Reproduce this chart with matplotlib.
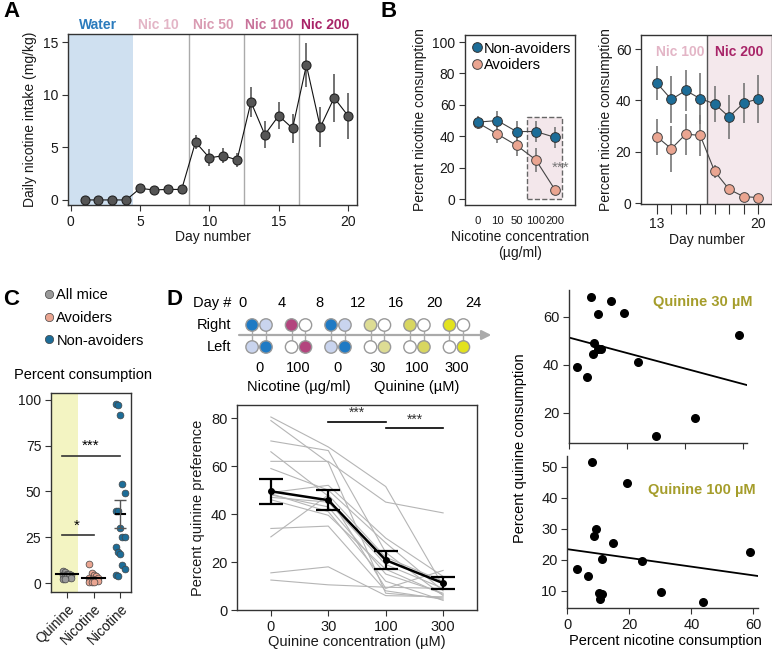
import numpy as np
import matplotlib.pyplot as plt
from matplotlib.lines import Line2D
from matplotlib.patches import Rectangle

plt.rcParams['font.family'] = ['Liberation Sans', 'DejaVu Sans']
plt.rcParams['font.size'] = 10
plt.rcParams['axes.edgecolor'] = '#333333'
plt.rcParams['axes.linewidth'] = 1.0
plt.rcParams['xtick.color'] = '#333333'
plt.rcParams['ytick.color'] = '#333333'
plt.rcParams['xtick.labelcolor'] = '#1a1a1a'
plt.rcParams['ytick.labelcolor'] = '#1a1a1a'
plt.rcParams['xtick.labelsize'] = 10
plt.rcParams['ytick.labelsize'] = 10
plt.rcParams['axes.labelsize'] = 10
plt.rcParams['xtick.major.size'] = 4.5
plt.rcParams['ytick.major.size'] = 4.5
plt.rcParams['xtick.major.pad'] = 2.5
plt.rcParams['ytick.major.pad'] = 2.5
plt.rcParams['axes.labelcolor'] = '#1a1a1a'

# ---- panel A: daily intake
days_a = list(range(1, 21))
intake = [0, 0, 0, 0, 1.1, 0.95, 1.0, 1.0, 5.5, 4.0, 4.2, 3.8,
          9.3, 6.2, 8.0, 6.8, 12.8, 6.9, 9.7, 8.0]
intake_err = [0, 0, 0, 0, 0.2, 0.2, 0.2, 0.2, 0.7, 0.8, 0.7, 0.7,
              1.4, 1.3, 1.3, 1.4, 2.1, 1.9, 2.3, 2.2]
phase_names = ['Water', 'Nic 10', 'Nic 50', 'Nic 100', 'Nic 200']
phase_colors = ['#2b7bbd', '#e3b5c6', '#d99bb2', '#c8739a', '#a82468']
phase_edges = [4.5, 8.5, 12.5, 16.5]

# ---- panel B: avoiders vs non-avoiders
conc_b = ['0', '10', '50', '100', '200']
nonav_b = [49.0, 50.0, 43.0, 43.0, 39.3]
nonav_b_err = [3.7, 6.0, 6.4, 6.4, 6.7]
avoid_b = [48.5, 41.4, 34.2, 25.0, 5.9]
avoid_b_err = [4.0, 6.0, 7.0, 7.5, 1.0]

days_b = list(range(13, 21))
nonav_days = [46.8, 40.4, 43.9, 40.7, 38.7, 33.6, 39.0, 40.6]
nonav_days_err = [6.6, 9.0, 8.0, 10.0, 7.0, 8.4, 7.8, 9.2]
avoid_days = [25.9, 21.2, 26.9, 26.4, 12.4, 5.4, 2.6, 2.2]
avoid_days_err = [7.0, 9.0, 8.0, 8.0, 2.5, 1.0, 0.8, 0.8]

# ---- panel C: percent consumption
quinine_all = [6.8, 5.9, 5.2, 4.8, 4.5, 4.2, 3.9, 3.6, 3.2, 2.8, 2.4, 2.1]
nicotine_avoid = [10.2, 5.5, 4.5, 3.8, 3.0, 2.5, 2.2, 1.8, 1.5, 1.2, 0.8, 0.5, 0.3]
nicotine_nonav = [97.8, 97.0, 91.6, 53.9, 49.2, 39.3, 39.3, 30.2, 25.3, 25.3,
                  19.5, 17.1, 15.8, 9.7, 7.5, 4.4, 3.8]
c_means = [4.9, 2.9, 37.7]
c_sem_nonav = 7.4

# ---- panel D: quinine preference
quinine_conc = ['0', '30', '100', '300']
mice_q = [
    [80.5, 68.0, 51.5, 10.0],
    [79.0, 61.5, 7.0, 5.0],
    [70.5, 66.5, 24.0, 6.0],
    [66.0, 47.5, 9.0, 16.5],
    [62.0, 62.0, 45.0, 40.5],
    [59.0, 50.0, 28.0, 8.0],
    [49.0, 52.0, 30.0, 14.0],
    [48.0, 43.0, 15.0, 7.0],
    [47.0, 45.0, 19.0, 9.0],
    [46.0, 39.5, 17.0, 6.5],
    [34.0, 35.0, 8.0, 4.5],
    [30.5, 48.0, 22.0, 12.0],
    [15.5, 18.0, 6.0, 5.5],
    [12.5, 10.5, 9.5, 9.0],
    [48.5, 41.0, 12.0, 4.0],
]
mean_q = [49.5, 45.8, 20.8, 11.2]
sem_q = [5.3, 4.2, 3.6, 2.4]

# schedule schematic
day_marks = [0, 4, 8, 12, 16, 20, 24]
block_conc = ['0', '100', '0', '30', '100', '300']
block_active = ['#1f7ac4', '#b3457e', '#1f7ac4', '#dddc94', '#d8d660', '#e2e21e']
block_other = ['#c9d4ee', 'white', '#c9d4ee', 'white', 'white', 'white']

# scatter: nicotine vs quinine consumption
nic_30 = [7.5, 14.4, 10.1, 18.9, 58.5, 8.6, 8.2, 10.1, 11.0, 2.6, 6.3, 23.9, 29.8, 43.5]
qui_30 = [68.1, 66.4, 61.1, 61.5, 52.2, 48.9, 44.3, 46.4, 46.7, 39.0, 34.8, 41.1, 10.4, 17.8]
fit_30 = (51.3, -0.323)
nic_100 = [19.3, 9.3, 8.5, 14.8, 11.3, 24.2, 58.9, 3.0, 6.8, 10.3, 11.2, 10.5, 30.2, 43.9, 8.0]
qui_100 = [44.7, 29.9, 27.5, 25.3, 20.2, 19.5, 22.6, 17.1, 14.8, 9.2, 8.8, 7.2, 9.7, 6.4, 51.5]
fit_100 = (23.4, -0.141)

blue = '#1d6d98'
salmon = '#eaa591'

W, H = 772, 651
fig = plt.figure(figsize=(W / 100, H / 100), dpi=100)


def add_ax(x0, y0, x1, y1):
    return fig.add_axes([x0 / W, 1 - y1 / H, (x1 - x0) / W, (y1 - y0) / H])


def letter(x, y, s):
    fig.text(x / W, 1 - y / H, s, fontsize=16, fontweight='bold', va='top', ha='left')


# ================= A
axA = add_ax(68, 34, 357, 205)
axA.set_xlim(-0.2, 20.65)
axA.set_ylim(-0.48, 15.76)
axA.axvspan(-0.2, phase_edges[0], color='#cfe0f0', lw=0, zorder=0)
for e in phase_edges[1:]:
    axA.axvline(e, color='#aaaaaa', lw=1, zorder=1)
axA.errorbar(days_a, intake, yerr=intake_err, fmt='none', ecolor='#666666',
             elinewidth=1.3, zorder=2)
axA.plot(days_a, intake, '-', color='#111111', lw=0.8, zorder=3)
axA.plot(days_a, intake, 'o', ms=6.5, mfc='#555555', mec='#222222', mew=0.8, zorder=4)
axA.set_xticks([0, 5, 10, 15, 20])
axA.set_yticks([0, 5, 10, 15])
axA.set_xlabel('Day number', labelpad=1)
axA.set_ylabel('Daily nicotine intake (mg/kg)')
bounds = [-0.2] + phase_edges + [20.65]
for i, name in enumerate(phase_names):
    axA.text((bounds[i] + bounds[i + 1]) / 2 - 0.2, 1.055, name, color=phase_colors[i],
             fontsize=10, fontweight='bold', ha='center', va='center',
             transform=axA.get_xaxis_transform())
letter(3, 1, 'A')

# ================= B left
axB = add_ax(465, 35, 575, 205)
xb = np.arange(len(conc_b))
axB.set_xlim(-0.68, 5.04)
axB.set_ylim(-3.8, 104.5)
axB.add_patch(Rectangle((xb[3] - 0.48, 0), 1.85, 52, facecolor='#f3e7eb',
                        edgecolor='#666666', ls='--', lw=1, zorder=0))
axB.errorbar(xb, avoid_b, yerr=avoid_b_err, fmt='none', ecolor='#777777', elinewidth=1.2, zorder=2)
axB.errorbar(xb, nonav_b, yerr=nonav_b_err, fmt='none', ecolor='#777777', elinewidth=1.2, zorder=2)
axB.plot(xb, avoid_b, '-', color='#444444', lw=0.8, zorder=3)
axB.plot(xb, nonav_b, '-', color='#444444', lw=0.8, zorder=3)
axB.plot(xb, avoid_b, 'o', ms=7, mfc=salmon, mec='#444444', mew=0.7, zorder=4)
axB.plot(xb, nonav_b, 'o', ms=7, mfc=blue, mec='#333333', mew=0.7, zorder=5)
axB.text(xb[4] + 0.3, avoid_b[3] - 5, '***', color='#777777', fontsize=11,
         ha='center', va='center')
axB.set_xticks(xb)
axB.set_xticklabels(conc_b, fontsize=8.2)
axB.tick_params(axis='x', length=0, pad=8)
axB.set_yticks([0, 20, 40, 60, 80, 100])
axB.set_xlabel('Nicotine concentration\n(\u00b5g/ml)', labelpad=3)
axB.set_ylabel('Percent nicotine consumption')
leg_h = [Line2D([], [], marker='o', ls='none', ms=7, mfc=blue, mec='#333333', mew=0.7),
         Line2D([], [], marker='o', ls='none', ms=7, mfc=salmon, mec='#444444', mew=0.7)]
axB.legend(leg_h, ['Non-avoiders', 'Avoiders'], loc='upper left', frameon=False,
           fontsize=10.5, handlelength=0.7, handletextpad=0.15, borderaxespad=0.2,
           borderpad=0.25, labelspacing=0.15)
letter(381, 1, 'B')

# ================= B right
axR = add_ax(641, 35, 772, 204)
axR.set_xlim(11.9, 20.97)
axR.set_ylim(-0.3, 65.5)
axR.axvspan(16.5, 20.97, color='#f4e8ec', lw=0, zorder=0)
axR.axvline(16.5, color='#555555', lw=1, zorder=1)
axR.errorbar(days_b, nonav_days, yerr=nonav_days_err, fmt='none', ecolor='#777777', elinewidth=1.2, zorder=2)
axR.errorbar(days_b, avoid_days, yerr=avoid_days_err, fmt='none', ecolor='#777777', elinewidth=1.2, zorder=2)
axR.plot(days_b, nonav_days, '-', color='#444444', lw=0.8, zorder=3)
axR.plot(days_b, avoid_days, '-', color='#444444', lw=0.8, zorder=3)
axR.plot(days_b, nonav_days, 'o', ms=7, mfc=blue, mec='#333333', mew=0.7, zorder=4)
axR.plot(days_b, avoid_days, 'o', ms=7, mfc=salmon, mec='#444444', mew=0.7, zorder=4)
axR.set_xticks(days_b)
axR.set_xticklabels([str(d) if d in (days_b[0], days_b[-1]) else '' for d in days_b])
axR.tick_params(axis='x', length=7)
axR.set_yticks([0, 20, 40, 60])
axR.set_xlabel('Day number', labelpad=1)
axR.set_ylabel('Percent nicotine consumption', labelpad=2)
axR.text(14.6, 0.9, 'Nic 100', color='#e3b5c6', fontsize=10, fontweight='bold',
         ha='center', va='center', transform=axR.get_xaxis_transform())
axR.text(18.7, 0.9, 'Nic 200', color='#a82468', fontsize=10, fontweight='bold',
         ha='center', va='center', transform=axR.get_xaxis_transform())

# ================= C
axC = add_ax(51, 393, 131, 592)
axC.set_xlim(-0.6, 2.4)
axC.set_ylim(-4.9, 103.8)
axC.axvspan(-0.6, 0.43, color='#f3f4c2', lw=0, zorder=0)
groups = [quinine_all, nicotine_avoid, nicotine_nonav]
gcols = ['#9a9a9a', salmon, blue]
for gi, vals in enumerate(groups):
    off = ((np.arange(len(vals)) % 5) - 2) * 0.08
    axC.scatter(gi + off, vals, s=24, color=gcols[gi], edgecolor='#444444', lw=0.5, zorder=3)
for gi in (0, 1):
    axC.plot([gi - 0.42, gi + 0.42], [c_means[gi]] * 2, color='black', lw=1.5, zorder=4)
axC.plot([2 - 0.18, 2 + 0.18], [c_means[2]] * 2, color='black', lw=1.5, zorder=4)
axC.errorbar([2], [c_means[2]], yerr=[c_sem_nonav], fmt='none', ecolor='#555555',
             elinewidth=1, capsize=4, zorder=4)
axC.plot([-0.2, 2.0], [69.6, 69.6], color='#333333', lw=1.2)
axC.text(0.9, 71, '***', ha='center', va='bottom', fontsize=11)
axC.plot([-0.2, 1.0], [26.2, 26.2], color='#333333', lw=1.2)
axC.text(0.38, 27.5, '*', ha='center', va='bottom', fontsize=11)
axC.set_xticks([0, 1, 2])
axC.set_xticklabels(['Quinine', 'Nicotine', 'Nicotine'], rotation=45, ha='right',
                    rotation_mode='anchor')
axC.set_yticks([0, 25, 50, 75, 100])
fig.text(83 / W, 1 - 375 / H, 'Percent consumption', ha='center', va='center', fontsize=10.5)
c_handles = [Line2D([], [], marker='o', ls='none', ms=6, mfc=c, mec='#444444', mew=0.5) for c in gcols]
fig.legend(c_handles, ['All mice', 'Avoiders', 'Non-avoiders'], loc='upper left',
           bbox_to_anchor=(44 / W, 1 - 288 / H), frameon=False, fontsize=10.5,
           handlelength=0.7, handletextpad=0.15, borderpad=0, borderaxespad=0,
           labelspacing=0.6)
letter(3, 289, 'C')

# ================= D schematic
axS = add_ax(185, 290, 500, 400)
axS.set_xlim(-6.05, 26.82)
axS.set_ylim(110, 0)
axS.axis('off')
for d in day_marks:
    axS.text(d, 13, str(d), ha='center', va='center', fontsize=10.5)
axS.text(-1.2, 13, 'Day #', ha='right', va='center', fontsize=10.5)
axS.text(-1.2, 35, 'Right', ha='right', va='center', fontsize=10.5)
axS.text(-1.2, 57, 'Left', ha='right', va='center', fontsize=10.5)
axS.annotate('', xy=(26.2, 45), xytext=(-0.7, 45),
             arrowprops=dict(arrowstyle='-|>', color='#aaaaaa', lw=1.6, mutation_scale=14))
for k in range(len(block_conc)):
    x1 = 4.12 * k + 0.95
    x2 = x1 + 1.45
    for x in (x1, x2):
        axS.plot([x, x], [35, 57], color='#aaaaaa', lw=1, zorder=2)
    axS.scatter([x1, x2], [35, 35], s=80, c=[block_active[k], block_other[k]],
                edgecolor='#999999', lw=1, zorder=3)
    axS.scatter([x1, x2], [57, 57], s=80, c=[block_other[k], block_active[k]],
                edgecolor='#999999', lw=1, zorder=3)
    axS.text((x1 + x2) / 2, 78, block_conc[k], ha='center', va='center', fontsize=10.5)
axS.text(4.12 * 1 + 1.675, 97, 'Nicotine (\u00b5g/ml)', ha='center', va='center', fontsize=10.5)
axS.text(4.12 * 4 + 1.675, 97, 'Quinine (\u00b5M)', ha='center', va='center', fontsize=10.5)
letter(167, 289, 'D')

# ================= D line plot
axD = add_ax(237, 405, 477, 610)
xq = np.arange(len(quinine_conc))
axD.set_xlim(-0.59, 3.59)
axD.set_ylim(0, 85.5)
for m in mice_q:
    axD.plot(xq, m, color='#b5b5b5', lw=0.8, zorder=1)
axD.errorbar(xq, mean_q, yerr=sem_q, fmt='none', ecolor='black', elinewidth=1.6,
             capsize=8.5, capthick=1.6, zorder=3)
axD.plot(xq, mean_q, '-o', color='black', lw=1.8, ms=4, zorder=4)
axD.plot([xq[1], xq[2]], [78.5, 78.5], color='black', lw=1.2)
axD.text((xq[1] + xq[2]) / 2, 79.3, '***', ha='center', va='bottom', fontsize=10, color='#333333')
axD.plot([xq[2], xq[3]], [75.7, 75.7], color='black', lw=1.2)
axD.text((xq[2] + xq[3]) / 2, 76.5, '***', ha='center', va='bottom', fontsize=10, color='#333333')
axD.set_xticks(xq)
axD.set_xticklabels(quinine_conc, fontsize=10.5)
axD.set_yticks([0, 20, 40, 60, 80])
axD.set_yticklabels(['0', '20', '40', '60', '80'], fontsize=10.5)
axD.set_xlabel('Quinine concentration (\u00b5M)', labelpad=1, fontsize=10.5)
axD.set_ylabel('Percent quinine preference', fontsize=10.5)

# ================= D scatters
olive = '#a59d2b'
axT = add_ax(569, 290, 746.7, 443.3)
axT.set_xlim(0, 61.2)
axT.set_ylim(7.25, 71.1)
axT.scatter(nic_30, qui_30, s=30, color='black', zorder=3)
xl = np.array(axT.get_xlim())
axT.plot(xl, fit_30[0] + fit_30[1] * xl, color='black', lw=1.3)
axT.set_xticks([0, 20, 40, 60])
axT.set_xticklabels([])
axT.set_yticks([20, 40, 60])

axU = add_ax(567.3, 456, 758, 608.3)
axU.set_xlim(0, 61.5)
axU.set_ylim(4.3, 53.5)
axU.scatter(nic_100, qui_100, s=30, color='black', zorder=3)
xl = np.array(axU.get_xlim())
axU.plot(xl, fit_100[0] + fit_100[1] * xl, color='black', lw=1.3)
axU.set_xticks([0, 20, 40, 60])
axU.set_yticks([10, 20, 30, 40, 50])
for a in (axT, axU):
    a.spines['top'].set_visible(False)
    a.spines['right'].set_visible(False)
    a.tick_params(labelsize=10.5)
fig.text(703 / W, 1 - 302 / H, 'Quinine 30 \u00b5M', color=olive, fontsize=10.5,
         fontweight='bold', ha='center', va='center')
fig.text(702 / W, 1 - 490 / H, 'Quinine 100 \u00b5M', color=olive, fontsize=10.5,
         fontweight='bold', ha='center', va='center')
fig.text(520 / W, 1 - 448 / H, 'Percent quinine consumption', rotation=90,
         ha='center', va='center', fontsize=10.5)
fig.text(665 / W, 1 - 641 / H, 'Percent nicotine consumption', ha='center', va='center',
         fontsize=10.5)

fig.savefig('out.png', dpi=100)
